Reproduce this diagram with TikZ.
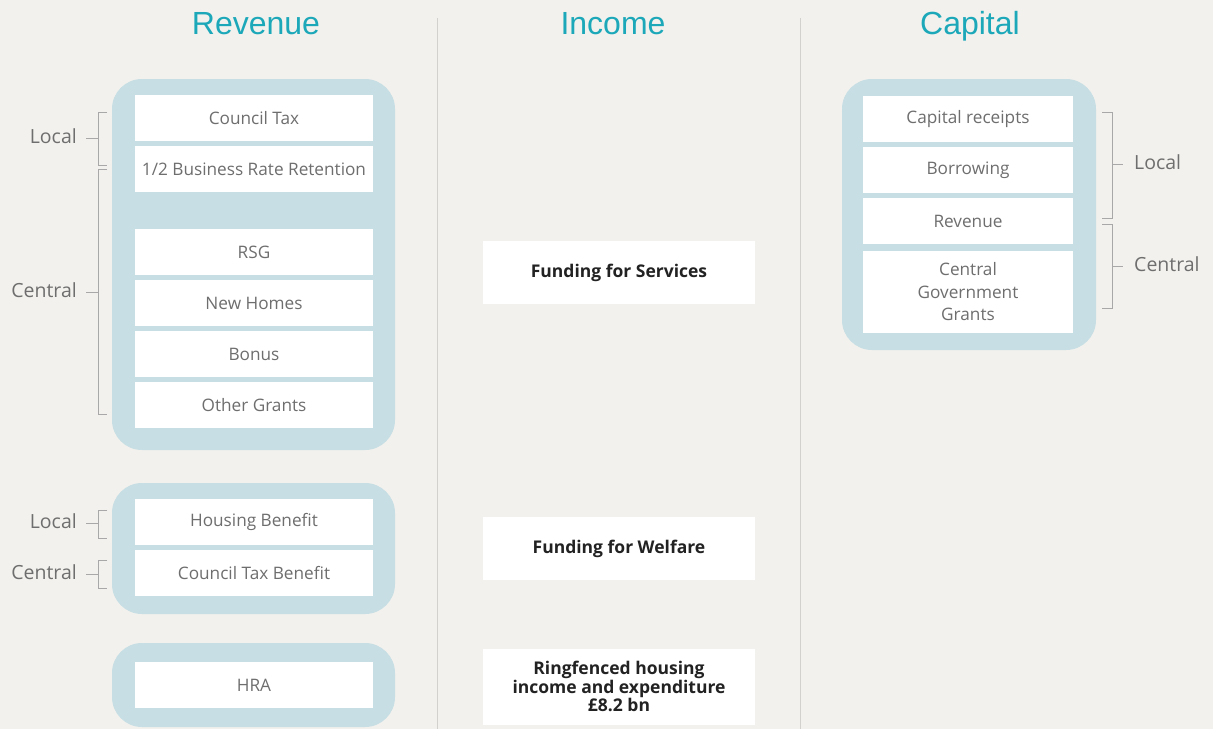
\documentclass[tikz,border=0pt]{standalone}
\usepackage{fontspec}
\setmainfont{Open Sans}
\newfontfamily\titlefont{Liberation Sans}
\definecolor{bg}{HTML}{F2F1ED}
\definecolor{panel}{HTML}{C6DEE4}
\definecolor{teal}{HTML}{1CA8B9}
\definecolor{itemtxt}{HTML}{6E6E6E}
\definecolor{brk}{HTML}{A8A8A8}
\definecolor{divider}{HTML}{D2D1CD}
\definecolor{boldtxt}{HTML}{222222}
\tikzset{
  panelbox/.style={fill=panel, rounded corners=30pt},
  itembox/.style={fill=white, minimum width=238pt, minimum height=46pt, inner sep=0pt,
    text=itemtxt, font=\fontsize{17.2}{22}\selectfont, align=center},
  capbox/.style={itembox, minimum width=210pt},
  incomebox/.style={fill=white, minimum width=272pt, inner sep=0pt, text=boldtxt,
    font=\fontsize{17.5}{18.5}\selectfont\bfseries, align=center},
  coltitle/.style={text=teal, font=\titlefont\fontsize{32}{36}\selectfont, anchor=base},
  sidelabel/.style={text=itemtxt, font=\fontsize{19.5}{24}\selectfont, inner sep=0pt},
  bracket/.style={draw=brk, line width=1pt},
  divline/.style={draw=divider, line width=1pt}
}
\begin{document}
\begin{tikzpicture}[x=1pt,y=-1pt]
% canvas
\fill[bg] (0,0) rectangle (1213,729);
\useasboundingbox (0,0) rectangle (1213,729);

% column titles and dividers
\node[coltitle] (trev) at (256,34) {Revenue};
\node[coltitle] (tinc) at (613,34) {Income};
\node[coltitle] (tcap) at (970,34) {Capital};
\draw[divline] (437,18) -- (437,729);
\draw[divline] (800,18) -- (800,729);

% ---------- Revenue ----------
\fill[panelbox] (112,79) rectangle (395,450);
\node[itembox] (ctax)  at (254,118) {Council Tax};
\node[itembox] (brr)   at (254,169) {1/2 Business Rate Retention};
\node[itembox] (rsg)   at (254,252) {RSG};
\node[itembox] (nh)    at (254,303) {New Homes};
\node[itembox] (bonus) at (254,354) {Bonus};
\node[itembox] (other) at (254,405) {Other Grants};

\fill[panelbox] (112,483) rectangle (395,614);
\node[itembox] (hb)  at (254,522) {Housing Benefit};
\node[itembox] (ctb) at (254,573) {Council Tax Benefit};

\fill[panelbox] (112,643) rectangle (395,727);
\node[itembox] (hra) at (254,685) {HRA};

% left-hand brackets
\draw[bracket] (107,112) -- (98,112) -- (98,165) -- (107,165);
\draw[bracket] (98,138) -- (86,138);
\node[sidelabel, anchor=east] (lloc1) at (77,136) {Local};
\draw[bracket] (107,169) -- (98,169) -- (98,414) -- (107,414);
\draw[bracket] (98,292) -- (86,292);
\node[sidelabel, anchor=east] (lcen1) at (77,290) {Central};

\draw[bracket] (107,510) -- (98,510) -- (98,538) -- (107,538);
\draw[bracket] (98,523) -- (86,523);
\node[sidelabel, anchor=east] (lloc2) at (77,521) {Local};
\draw[bracket] (107,560) -- (98,560) -- (98,588) -- (107,588);
\draw[bracket] (98,574) -- (86,574);
\node[sidelabel, anchor=east] (lcen2) at (77,572) {Central};

% ---------- Income ----------
\node[incomebox, minimum height=63pt] (fserv) at (619,272.5) {Funding for Services};
\node[incomebox, minimum height=63pt] (fwelf) at (619,548.5) {Funding for Welfare};
\node[incomebox, minimum height=76pt] (ring)  at (619,686.5)
  {Ringfenced housing\\income and expenditure\\\pounds8.2 bn};

% ---------- Capital ----------
\fill[panelbox] (842,79) rectangle (1096,350);
\node[capbox] (crec) at (968,119) {Capital receipts};
\node[capbox] (borr) at (968,170) {Borrowing};
\node[capbox] (crev) at (968,221) {Revenue};
\node[capbox, minimum height=82pt, font=\fontsize{17.2}{22.5}\selectfont] (cgg) at (968,292)
  {Central\\Government\\Grants};

% right-hand brackets
\draw[bracket] (1102,112) -- (1112,112) -- (1112,218) -- (1102,218);
\draw[bracket] (1112,164) -- (1123,164);
\node[sidelabel, anchor=west] (rloc) at (1134,162) {Local};
\draw[bracket] (1102,224) -- (1112,224) -- (1112,308) -- (1102,308);
\draw[bracket] (1112,266) -- (1123,266);
\node[sidelabel, anchor=west] (rcen) at (1134,264) {Central};
\end{tikzpicture}
\end{document}
